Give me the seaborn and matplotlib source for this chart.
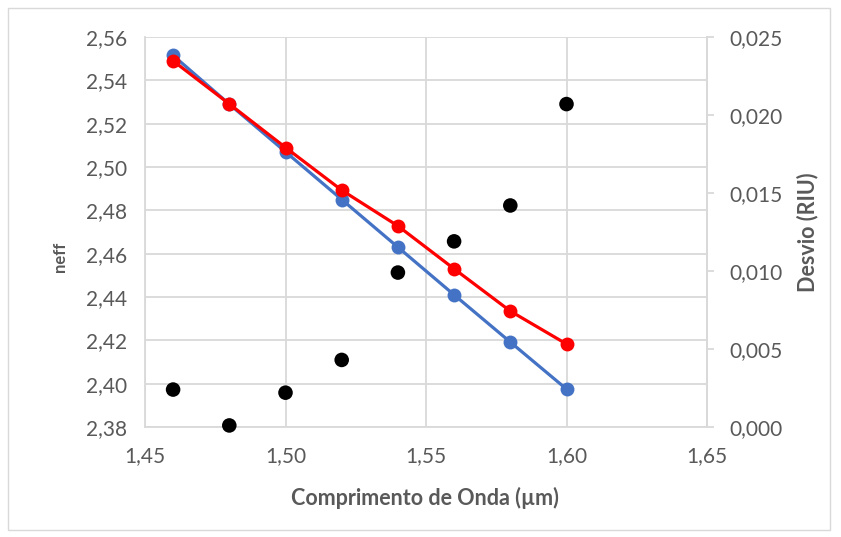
import numpy as np
import pandas as pd
import matplotlib
matplotlib.use("Agg")
import matplotlib.pyplot as plt
import seaborn as sns
from matplotlib.ticker import FuncFormatter, MultipleLocator
from matplotlib.patches import Rectangle

wavelength = [1.46, 1.48, 1.50, 1.52, 1.54, 1.56, 1.58, 1.60]
neff_blue = [2.5515, 2.5290, 2.5070, 2.4850, 2.4630, 2.4410, 2.4192, 2.3975]
neff_red = [2.5490, 2.5291, 2.5090, 2.4893, 2.4728, 2.4530, 2.4335, 2.4183]
desvio = [0.0024, 0.0001, 0.0022, 0.0043, 0.0099, 0.0119, 0.0142, 0.0207]

df = pd.DataFrame({'wl': wavelength, 'blue': neff_blue, 'red': neff_red, 'desvio': desvio})

sns.set_theme(style="white")
plt.rcParams['font.family'] = ['Lato', 'DejaVu Sans']
tick_color = '#595959'
grid_color = '#d9d9d9'

fig = plt.figure(figsize=(8.41, 5.37), dpi=100)
fig.patches.append(Rectangle((8 / 841, 7 / 537), 822 / 841, 522 / 537, transform=fig.transFigure,
                             fill=False, edgecolor='#d9d9d9', linewidth=1.0))
ax = fig.add_axes([145 / 841, 1 - 427 / 537, (707 - 145) / 841, (427 - 37) / 537])

sns.lineplot(data=df, x='wl', y='blue', ax=ax, color='#4472C4', linewidth=2.3,
             marker='o', markersize=10, markeredgewidth=0, zorder=3)
sns.lineplot(data=df, x='wl', y='red', ax=ax, color='#FF0000', linewidth=2.3,
             marker='o', markersize=10, markeredgewidth=0, zorder=4)

ax.set_xlim(1.45, 1.65)
ax.set_ylim(2.38, 2.56)
ax.xaxis.set_major_locator(MultipleLocator(0.05))
ax.yaxis.set_major_locator(MultipleLocator(0.02))
comma2 = FuncFormatter(lambda v, p: f"{v:.2f}".replace('.', ','))
ax.xaxis.set_major_formatter(comma2)
ax.yaxis.set_major_formatter(comma2)
ax.grid(True, color=grid_color, linewidth=1.3)
ax.set_axisbelow(True)
for s in ['left', 'bottom', 'right', 'top']:
    ax.spines[s].set_color(grid_color)
    ax.spines[s].set_linewidth(1.3)
ax.spines['top'].set_visible(False)
ax.tick_params(axis='y', colors=tick_color, labelsize=15, length=0, pad=13)
ax.tick_params(axis='x', colors=tick_color, labelsize=15, length=0, pad=14)
ax.set_xlabel('Comprimento de Onda (µm)', fontsize=15.5, fontweight='bold', color=tick_color, va='center')
ax.xaxis.set_label_coords(0.498, -0.182)
ax.set_ylabel('neff', fontsize=12, fontweight='bold', color=tick_color, va='center')
ax.yaxis.set_label_coords(-0.151, 0.435)

ax2 = ax.twinx()
sns.scatterplot(data=df, x='wl', y='desvio', ax=ax2, color='black', s=110, edgecolor='none',
                zorder=5, clip_on=False)
ax2.set_ylim(0, 0.025)
ax2.yaxis.set_major_locator(MultipleLocator(0.005))
ax2.yaxis.set_major_formatter(FuncFormatter(lambda v, p: f"{v:.3f}".replace('.', ',')))
for s in ['left', 'bottom', 'right', 'top']:
    ax2.spines[s].set_visible(False)
ax2.spines['right'].set_visible(True)
ax2.spines['right'].set_color(grid_color)
ax2.spines['right'].set_linewidth(1.3)
ax2.tick_params(axis='y', colors=tick_color, labelsize=15, length=5, width=1.3, pad=11)
ax2.tick_params(axis='y', color=grid_color)
ax2.set_ylabel('Desvio (RIU)', fontsize=15.5, fontweight='bold', color=tick_color, va='center')
ax2.yaxis.set_label_coords(1.178, 0.5)
ax2.set_xlabel('')

fig.savefig('out.png', dpi=100)
